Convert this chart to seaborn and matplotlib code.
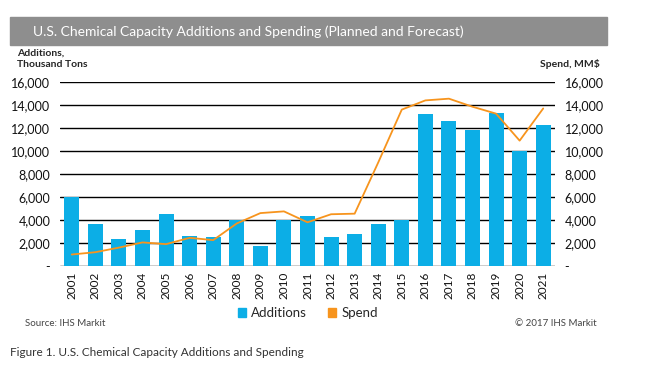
import numpy as np
import pandas as pd
import seaborn as sns
import matplotlib
matplotlib.use("Agg")
import matplotlib.pyplot as plt
from matplotlib.patches import Patch, Rectangle
from matplotlib.ticker import FuncFormatter

# données
years = [str(y) for y in range(2001, 2022)]
additions = [6000, 3650, 2350, 3150, 4550, 2650, 2550, 4000, 1750, 4000, 4350,
             2550, 2800, 3650, 4000, 13250, 12650, 11850, 13300, 10000, 12300]
spend = [1000, 1200, 1600, 2050, 1900, 2450, 2250, 3700, 4600, 4750, 3800,
         4500, 4550, 9000, 13600, 14400, 14550, 13850, 13250, 10900, 13700]

blue = '#0CAEE6'
orange = '#F7941D'

sns.set_style('white')
plt.rcParams['font.family'] = ['Lato', 'DejaVu Sans']

df = pd.DataFrame({'Year': years, 'Additions': additions, 'Spend': spend})

fig = plt.figure(figsize=(6.5, 3.67), dpi=100)
ax = fig.add_axes([60 / 650, 1 - 266 / 367, 495 / 650, 184 / 367])

# barres des ajouts
sns.barplot(data=df, x='Year', y='Additions', color=blue, width=0.64,
            saturation=1, linewidth=0, ax=ax, zorder=3)

# courbe des dépenses sur l'axe de droite
ax2 = ax.twinx()
sns.lineplot(data=df, x='Year', y='Spend', color=orange, linewidth=1.3,
             ax=ax2, zorder=4)

fmt = FuncFormatter(lambda v, p: '-' if v == 0 else f'{int(v):,}')
for a in (ax, ax2):
    a.set_ylim(0, 16000)
    a.set_yticks(range(0, 16001, 2000))
    a.yaxis.set_major_formatter(fmt)
    a.set_xlabel('')
    a.set_ylabel('')
    for s in a.spines.values():
        s.set_visible(False)
    a.tick_params(length=0, labelsize=9, colors='#111111')
ax.tick_params(axis='y', pad=7)
ax2.tick_params(axis='y', pad=7)
ax.set_xlim(-0.5, len(years) - 0.5)
ax.yaxis.grid(True, color='black', linewidth=1.0, zorder=0)
ax.set_axisbelow(True)
ax.tick_params(axis='x', labelrotation=90, labelsize=8.5, pad=4)

# bandeau du titre
fig.patches.append(Rectangle((10 / 650, 1 - 45 / 367), 597 / 650, 28 / 367,
                             transform=fig.transFigure, color='#8E8E8E', zorder=0))
fig.text(33 / 650, 1 - 32 / 367,
         'U.S. Chemical Capacity Additions and Spending (Planned and Forecast)',
         color='white', fontsize=10, va='center', ha='left')

fig.text(17 / 650, 1 - 59 / 367, 'Additions,\nThousand Tons', fontsize=7.5,
         fontweight='bold', va='center', ha='left', linespacing=1.3)
fig.text(600 / 650, 1 - 64 / 367, 'Spend, MM$', fontsize=7.5,
         fontweight='bold', va='center', ha='right')

# légende
handles = [Patch(color=blue, label='Additions'), Patch(color=orange, label='Spend')]
fig.legend(handles=handles, loc='center', bbox_to_anchor=(308 / 650, 1 - 313 / 367),
           ncol=2, frameon=False, fontsize=9.5, handlelength=0.6, handleheight=0.6,
           handletextpad=0.4, columnspacing=1.6)

fig.text(25 / 650, 1 - 323 / 367, 'Source: IHS Markit', fontsize=7,
         color='#444444', va='center', ha='left')
fig.text(597 / 650, 1 - 323 / 367, '© 2017 IHS Markit', fontsize=7,
         color='#444444', va='center', ha='right')
fig.text(10 / 650, 1 - 352 / 367,
         'Figure 1. U.S. Chemical Capacity Additions and Spending',
         fontsize=8.5, color='#333333', va='center', ha='left')

fig.savefig('out.png', dpi=100)
